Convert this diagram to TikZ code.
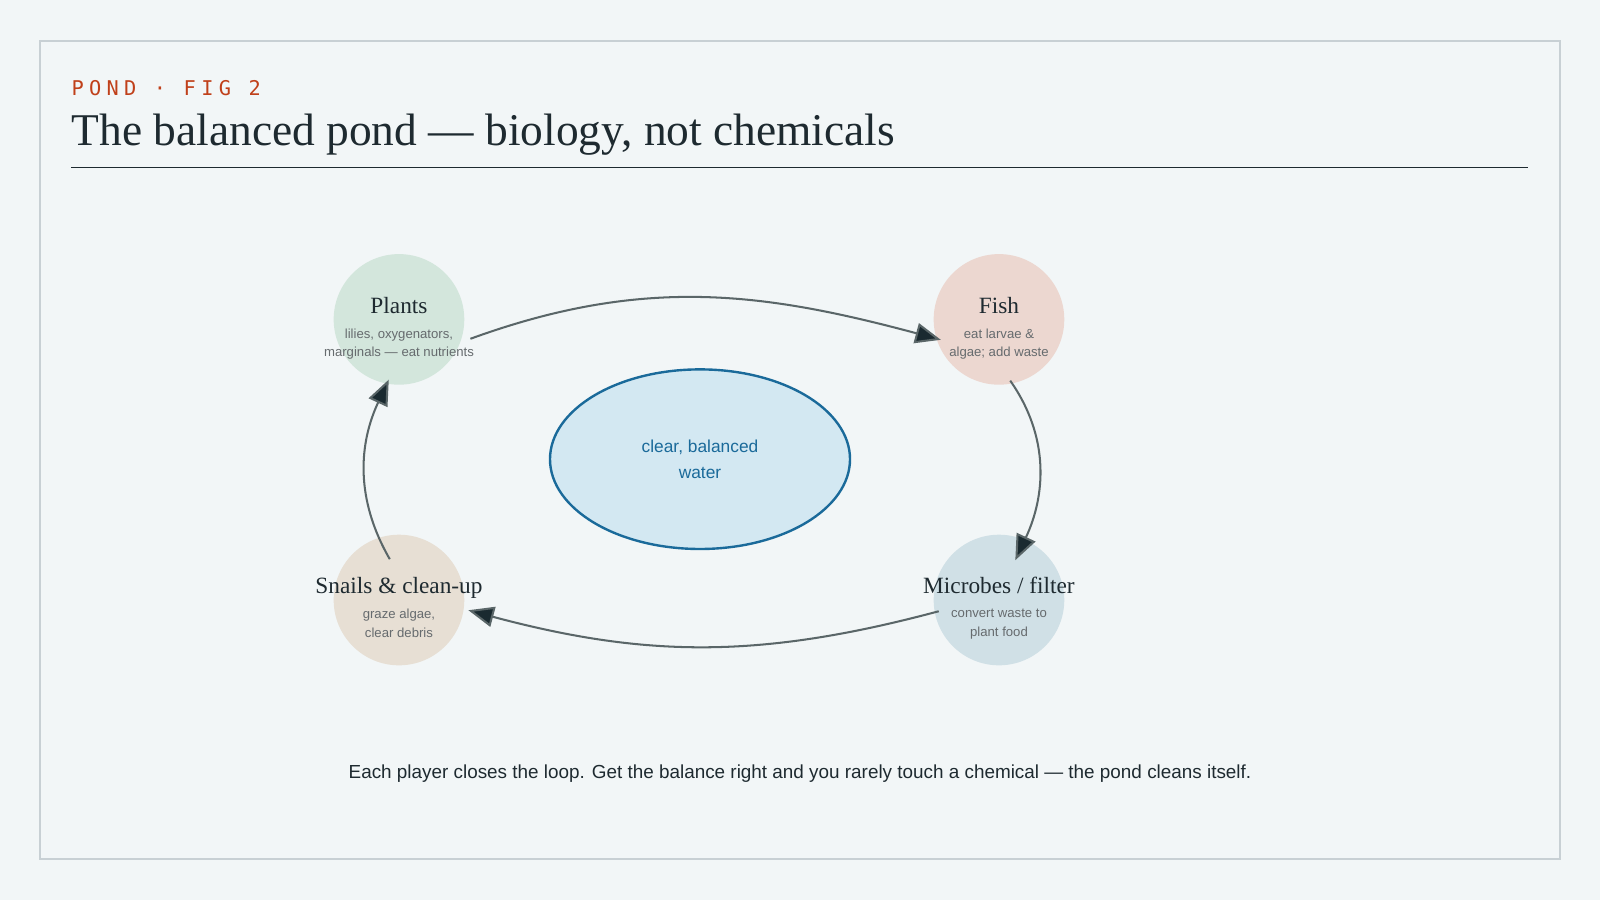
\documentclass[tikz,border=0pt]{standalone}
\usepackage{fontspec}
\setmainfont{Liberation Serif}
\setsansfont{Liberation Sans}
\newfontfamily\tagfont[LetterSpace=26]{DejaVu Sans Mono}
\usetikzlibrary{positioning, calc, arrows.meta, shapes.geometric}
\definecolor{pagebg}{HTML}{F2F6F7}
\definecolor{framec}{HTML}{C8D0D4}
\definecolor{tagc}{HTML}{C0401A}
\definecolor{inkc}{HTML}{1E2A30}
\definecolor{subc}{HTML}{666B6E}
\definecolor{linkc}{HTML}{5A6668}
\definecolor{headc}{HTML}{1A2A30}
\definecolor{waterc}{HTML}{D3E8F2}
\definecolor{waterline}{HTML}{1A6A9A}
\definecolor{plantc}{HTML}{D3E6DC}
\definecolor{fishc}{HTML}{ECD7D0}
\definecolor{snailc}{HTML}{E7DFD4}
\definecolor{microc}{HTML}{D0E0E6}
\tikzset{
  player/.style={circle, minimum size=3.84cm, inner sep=0pt},
  playername/.style={font=\fontsize{19.5}{22}\selectfont, text=inkc},
  playernote/.style={font=\sffamily\fontsize{11}{15.5}\selectfont, text=subc, align=center},
  loop/.style={draw=linkc, line width=1.7pt, -{Triangle[length=0.75cm, width=0.6cm, fill=headc]}},
}
\begin{document}
\begin{tikzpicture}[x=0.03cm, y=-0.03cm]
  \fill[pagebg] (0,0) rectangle (1568,882);
  \draw[framec, line width=1.5pt] (39,40) rectangle (1529,842);
  \useasboundingbox (0,0) rectangle (1568,882);

  % heading
  \node[anchor=base west, inner sep=0pt, text=tagc, font=\tagfont\fontsize{17}{20}\selectfont] (tag) at (70,94) {POND · FIG 2};
  \node[anchor=base west, inner sep=0pt, text=inkc, font=\fontsize{38}{44}\selectfont] (title) at (70,143) {The balanced pond — biology, not chemicals};
  \draw[inkc, line width=1.3pt] (70,164) -- (1497,164);

  % water
  \node[ellipse, draw=waterline, fill=waterc, line width=2pt, minimum width=8.82cm, minimum height=5.28cm] (water) at (686,450) {};
  \node[align=center, text=waterline, font=\sffamily\fontsize{14.5}{22}\selectfont] at (water) {clear, balanced\\water};

  % players
  \node[player, fill=plantc] (plants) at (391,313) {};
  \node[player, fill=fishc] (fish) at (979,313) {};
  \node[player, fill=snailc] (snails) at (391,588) {};
  \node[player, fill=microc] (microbes) at (979,588) {};
  \foreach \p/\t/\s in {plants/Plants/{lilies, oxygenators,\\marginals — eat nutrients},
      fish/Fish/{eat larvae \&\\algae; add waste},
      snails/Snails \& clean-up/{graze algae,\\clear debris},
      microbes/{Microbes \slash\ filter}/{convert waste to\\plant food}} {
    \node[playername, anchor=base] (\p-name) at ($(\p)+(0,-6)$) {\t};
    \node[playernote, anchor=north] (\p-note) at ($(\p)+(0,5)$) {\s};
  }

  % loop
  \coordinate (a1) at (461,332); \coordinate (a2) at (922,333);
  \coordinate (b1) at (990,373); \coordinate (b2) at (995,549);
  \coordinate (c1) at (920,599); \coordinate (c2) at (459,598);
  \coordinate (d1) at (382,548); \coordinate (d2) at (381,372);
  \draw[loop] (a1) to[out=20, in=165] (a2);
  \draw[loop] (b1) to[out=-55, in=65] (b2);
  \draw[loop] (c1) to[out=195, in=-15] (c2);
  \draw[loop] (d1) to[out=120, in=-115] (d2);

  \node[text=inkc, font=\sffamily\fontsize{15.8}{18}\selectfont] (caption) at (784,758) {Each player closes the loop. Get the balance right and you rarely touch a chemical — the pond cleans itself.};
\end{tikzpicture}
\end{document}
